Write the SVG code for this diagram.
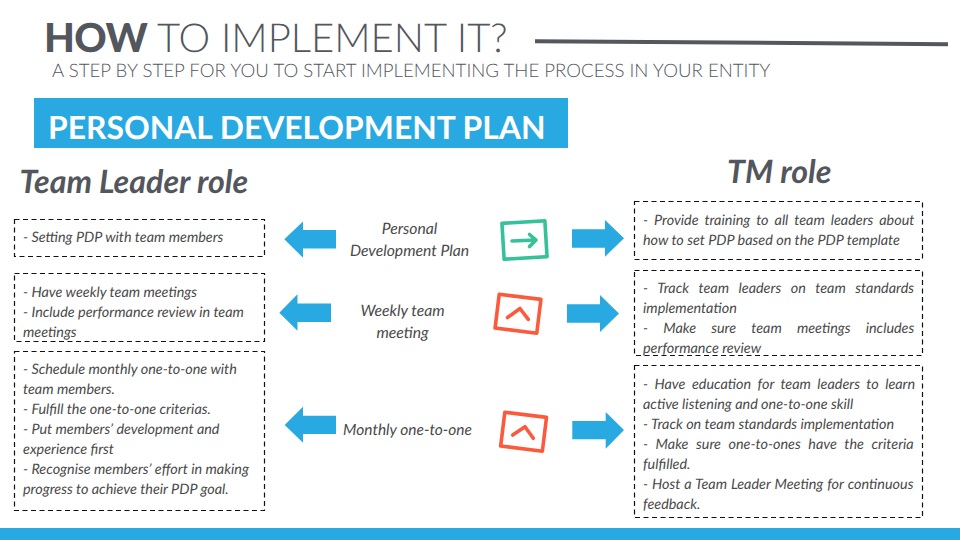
<svg xmlns="http://www.w3.org/2000/svg" width="960" height="540" viewBox="0 0 960 540">
<style>
text{font-family:"Lato","Liberation Sans",sans-serif;fill:#53565d;text-rendering:geometricPrecision}
.body{font-size:14.4px;font-style:italic;fill:#4a4a4a}
.mid{font-size:15.7px;font-style:italic;fill:#4a4a4a;text-anchor:middle}
.role{font-size:32.2px;font-style:italic;font-weight:700}
.box{fill:none;stroke:#111;stroke-width:1.2;stroke-dasharray:5 3.5}
.arrow{fill:#29a9e1}
.ico{fill:none;stroke-width:3.6;stroke-linecap:round;stroke-linejoin:round}
</style>
<rect width="960" height="540" fill="#fff"/>
<g id="header">
<text x="44" y="51.500" font-size="40" font-weight="300"><tspan font-weight="900" letter-spacing="-0.6">HOW</tspan> TO IMPLEMENT IT?</text>
<text x="52" y="77" font-size="18.65" font-weight="300">A STEP BY STEP FOR YOU TO START IMPLEMENTING THE PROCESS IN YOUR ENTITY</text>
<path d="M535 41.200L948 44.200" stroke="#54575e" stroke-width="4" fill="none"/>
</g>
<g id="banner">
<rect x="34" y="98" width="534" height="50" fill="#29a9e1"/>
<text x="48" y="138.500" font-size="31.850" font-weight="700" style="fill:#fff">PERSONAL DEVELOPMENT PLAN</text>
</g>
<g id="team-leader-title"><text class="role" x="19.500" y="193">Team Leader role</text></g>
<g id="tm-title"><text class="role" x="727" y="183">TM role</text></g>

<g id="tl-1">
<rect class="box" x="14.500" y="219.500" width="250" height="37"/>
<text class="body" x="23" y="242">- Setting PDP with team members</text>
</g>
<g id="tl-2">
<rect class="box" x="14.500" y="273.500" width="250" height="68"/>
<text class="body" x="23" y="297">- Have weekly team meetings</text>
<text class="body" x="23" y="317">- Include performance review in team</text>
<text class="body" x="23" y="337">meetings</text>
</g>
<g id="tl-3">
<rect class="box" x="14.500" y="351.500" width="250" height="159"/>
<text class="body" x="23" y="374">- Schedule monthly one-to-one with</text>
<text class="body" x="23" y="394">team members.</text>
<text class="body" x="23" y="414">- Fulfill the one-to-one criterias.</text>
<text class="body" x="23" y="434">- Put members’ development and</text>
<text class="body" x="23" y="454">experience first</text>
<text class="body" x="23" y="474">- Recognise members’ effort in making</text>
<text class="body" x="23" y="494">progress to achieve their PDP goal.</text>
</g>

<g id="tm-1">
<rect class="box" x="634.500" y="201.500" width="288" height="58"/>
<text class="body" x="643" y="224.500" word-spacing="2.6">- Provide training to all team leaders about</text>
<text class="body" x="643" y="244.500">how to set PDP based on the PDP template</text>
</g>
<g id="tm-2">
<rect class="box" x="634.500" y="270.500" width="288" height="85"/>
<text class="body" x="643" y="293" word-spacing="6.2">- Track team leaders on team standards</text>
<text class="body" x="643" y="313">implementation</text>
<text class="body" x="643" y="333" word-spacing="11.800">- Make sure team meetings includes</text>
<text class="body" x="643" y="353">performance review</text>
</g>
<g id="tm-3">
<rect class="box" x="634.500" y="365.500" width="288" height="152"/>
<text class="body" x="643" y="389" word-spacing="3.07">- Have education for team leaders to learn</text>
<text class="body" x="643" y="409">active listening and one-to-one skill</text>
<text class="body" x="643" y="429">- Track on team standards implementation</text>
<text class="body" x="643" y="449" word-spacing="4.2">- Make sure one-to-ones have the criteria</text>
<text class="body" x="643" y="469">fulfilled.</text>
<text class="body" x="643" y="489" word-spacing="0.57">- Host a Team Leader Meeting for continuous</text>
<text class="body" x="643" y="509">feedback.</text>
</g>

<g id="label-1"><text class="mid" x="409.500" y="234">Personal</text><text class="mid" x="409.500" y="256">Development Plan</text></g>
<g id="label-2"><text class="mid" x="402.500" y="316">Weekly team</text><text class="mid" x="402.500" y="338">meeting</text></g>
<g id="label-3"><text class="mid" x="407.500" y="435" style="font-size:15.5px">Monthly one-to-one</text></g>

<g id="icon-1">
<rect class="ico" x="503" y="222" width="43" height="36" stroke="#35c19a" transform="rotate(-3.500 524.500 240)"/>
<path class="ico" d="M512 241L536 240M529.500 234.500L536 240L529.500 246.500" stroke="#35c19a"/>
</g>
<g id="icon-2">
<rect class="ico" x="497" y="296.700" width="42" height="34" stroke="#fb5a3c" transform="rotate(7 518 313.700)"/>
<path class="ico" d="M507.500 317.500L520 308.500L528.300 319.300" stroke="#fb5a3c"/>
</g>
<g id="icon-3">
<rect class="ico" x="502.600" y="414.700" width="42" height="34" stroke="#fb5a3c" transform="rotate(7 523.600 431.700)"/>
<path class="ico" d="M512.700 435L525 426.700L533.300 438.300" stroke="#fb5a3c"/>
</g>

<g id="connectors">
<polygon class="arrow" points="336,230 303,230 303,221.500 284.300,239.300 303,257.700 303,248.500 336,248.500"/>
<polygon class="arrow" points="331,303.500 297.500,303.500 297.500,294.300 279.300,312.700 297.500,330.700 297.500,322 331,322"/>
<polygon class="arrow" points="336,415.700 303,415.700 303,406.700 284.700,425 303,442.700 303,434 336,434"/>
<polygon class="arrow" points="572,229.300 605,229.300 605,220 624,238.300 605,256.700 605,247.700 572,247.700"/>
<polygon class="arrow" points="567,304.300 600,304.300 600,295 619,313.500 600,332 600,322.700 567,322.700"/>
<polygon class="arrow" points="572.300,421 605.700,421 605.700,412 624,430 605.700,448.700 605.700,439.300 572.300,439.300"/>
</g>
<rect id="footer" x="0" y="528" width="960" height="12" fill="#29a9e1"/>
</svg>
